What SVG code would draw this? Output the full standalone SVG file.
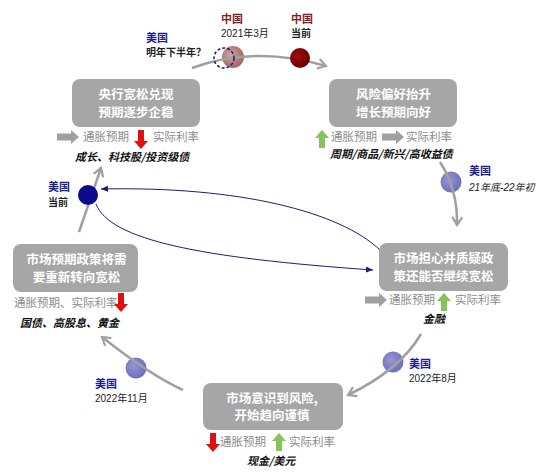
<svg xmlns="http://www.w3.org/2000/svg" width="542" height="473" viewBox="0 0 542 473">
<defs>
<style>
.box{fill:#a6a6a6;}
.bt{font-family:"Noto Sans CJK SC",sans-serif;font-size:12.5px;font-weight:bold;fill:#ffffff;text-anchor:middle;}
.sub{font-family:"Noto Sans CJK SC",sans-serif;font-size:11.5px;fill:#8c8c8c;}
.ast{font-family:"Noto Sans CJK SC",sans-serif;font-size:11px;font-weight:bold;font-style:italic;fill:#111111;}
.us{font-family:"Noto Sans CJK SC",sans-serif;font-size:11px;font-weight:bold;fill:#1f1f8a;}
.cn{font-family:"Noto Sans CJK SC",sans-serif;font-size:11px;font-weight:bold;fill:#8b1a1a;}
.dt{font-family:"Liberation Sans","Noto Sans CJK SC",sans-serif;font-size:10px;fill:#222222;}
.dtb{font-family:"Noto Sans CJK SC",sans-serif;font-size:10px;font-weight:bold;fill:#222222;}
.arc{fill:none;stroke:#a0a0a0;stroke-width:2.5;marker-end:url(#chev);}
.thin{fill:none;stroke:#1d1d6b;stroke-width:1;marker-end:url(#tri);}
</style>
<marker id="chev" markerUnits="userSpaceOnUse" viewBox="0 0 12 12" refX="10" refY="6" markerWidth="12" markerHeight="12" orient="auto">
<path d="M2,1 L10,6 L2,11" fill="none" stroke="#a0a0a0" stroke-width="2.2"/>
</marker>
<marker id="tri" markerUnits="userSpaceOnUse" viewBox="0 0 8 8" refX="7" refY="4" markerWidth="8" markerHeight="8" orient="auto">
<path d="M0,1 L7,4 L0,7 Z" fill="#1d1d6b"/>
</marker>
<path id="grayR" d="M0,-3.5 L14,-3.5 L14,-7 L22,0 L14,7 L14,3.5 L0,3.5 Z" fill="#a0a0a0"/>
<path id="redD" d="M-3,0 L3,0 L3,11 L7,11 L0,19 L-7,11 L-3,11 Z" fill="#e01010"/>
<path id="grnU" d="M-3,18 L3,18 L3,8 L7,8 L0,0 L-7,8 L-3,8 Z" fill="#86c45a"/>
<radialGradient id="gUS" cx="0.4" cy="0.4" r="0.6">
<stop offset="0" stop-color="#8a8ad2"/><stop offset="1" stop-color="#5f5fb3"/>
</radialGradient>
<radialGradient id="gCN1" cx="0.4" cy="0.4" r="0.6">
<stop offset="0" stop-color="#c79a9a"/><stop offset="1" stop-color="#9a5656"/>
</radialGradient>
<radialGradient id="gCN2" cx="0.4" cy="0.4" r="0.6">
<stop offset="0" stop-color="#9a1010"/><stop offset="1" stop-color="#6a0000"/>
</radialGradient>
</defs>
<rect width="542" height="473" fill="#ffffff"/>

<g id="markers-light">
<circle cx="233" cy="57" r="11" fill="url(#gCN1)" opacity="0.9"/>
<circle cx="451" cy="182" r="10.5" fill="url(#gUS)" opacity="0.9"/>
<circle cx="393" cy="362" r="10.5" fill="url(#gUS)" opacity="0.9"/>
<circle cx="136" cy="368" r="10.5" fill="url(#gUS)" opacity="0.9"/>
</g>

<g id="connectors">
<path class="arc" d="M192,68 Q255,45 326,66"/>
<path class="arc" d="M440,162 Q458,190 457,225"/>
<path class="arc" d="M421,334 Q400,370 348,395"/>
<path class="arc" d="M183,390 Q150,375 102,337"/>
<path class="arc" d="M79,232 L101,168"/>
<path class="thin" d="M380,250 C340,212 240,186 101,189"/>
<path class="thin" d="M96,204 C110,240 200,258 373,270"/>
</g>

<g id="markers-dark">
<circle cx="224" cy="58" r="10" fill="none" stroke="#1d1d6b" stroke-width="1.5" stroke-dasharray="3,2"/>
<circle cx="300" cy="58" r="10" fill="url(#gCN2)"/>
<circle cx="88" cy="195" r="10" fill="#0a0a8a"/>
</g>

<g id="labels">
<text class="us" x="146" y="42">美国</text>
<text class="dtb" x="146" y="56" font-weight="normal">明年下半年？</text>
<text class="cn" x="221" y="23">中国</text>
<text class="dt" x="221" y="37">2021年3月</text>
<text class="cn" x="291" y="23">中国</text>
<text class="dtb" x="291" y="37">当前</text>
<text class="us" x="469" y="175">美国</text>
<text class="dt" x="469" y="191" font-style="italic">21年底-22年初</text>
<text class="us" x="409" y="368">美国</text>
<text class="dt" x="409" y="382">2022年8月</text>
<text class="us" x="95" y="388">美国</text>
<text class="dt" x="95" y="402">2022年11月</text>
<text class="us" x="48" y="191">美国</text>
<text class="dtb" x="48" y="206">当前</text>
</g>

<g id="node1">
<rect class="box" x="72" y="79" width="128" height="48" rx="8"/>
<text class="bt"><tspan x="136" y="99">央行宽松兑现</tspan><tspan x="136" y="116.5">预期逐步企稳</tspan></text>
<use href="#grayR" x="57" y="137"/>
<text class="sub" x="83" y="141">通胀预期</text>
<use href="#redD" x="141" y="130"/>
<text class="sub" x="153" y="141">实际利率</text>
<text class="ast" x="75" y="160.5">成长、科技股/投资级债</text>
</g>

<g id="node2">
<rect class="box" x="329" y="79" width="128" height="48" rx="8"/>
<text class="bt"><tspan x="393.5" y="99">风险偏好抬升</tspan><tspan x="393.5" y="116.5">增长预期向好</tspan></text>
<use href="#grnU" x="322" y="130"/>
<text class="sub" x="331" y="141">通胀预期</text>
<use href="#grayR" x="382" y="137"/>
<text class="sub" x="406" y="141">实际利率</text>
<text class="ast" x="330" y="158">周期/商品/新兴/高收益债</text>
</g>

<g id="node3">
<rect class="box" x="13" y="244" width="125" height="48" rx="8"/>
<text class="bt"><tspan x="76.5" y="264">市场预期政策将需</tspan><tspan x="76.5" y="281.5">要重新转向宽松</tspan></text>
<text class="sub" x="14" y="307">通胀预期、实际利率</text>
<use href="#redD" x="121" y="293"/>
<text class="ast" x="20" y="327">国债、高股息、黄金</text>
</g>

<g id="node4">
<rect class="box" x="379" y="243" width="129" height="48" rx="8"/>
<text class="bt"><tspan x="443.5" y="263">市场担心并质疑政</tspan><tspan x="443.5" y="280.5">策还能否继续宽松</tspan></text>
<use href="#grayR" x="365" y="300"/>
<text class="sub" x="389" y="304">通胀预期</text>
<use href="#grnU" x="444" y="293"/>
<text class="sub" x="455" y="304">实际利率</text>
<text class="ast" x="423" y="323">金融</text>
</g>

<g id="node5">
<rect class="box" x="203" y="383" width="140" height="47" rx="8"/>
<text class="bt"><tspan x="272" y="402.5">市场意识到风险,</tspan><tspan x="272" y="420">开始趋向谨慎</tspan></text>
<use href="#redD" x="213" y="433"/>
<text class="sub" x="220" y="446">通胀预期</text>
<use href="#grnU" x="279" y="433"/>
<text class="sub" x="289" y="446">实际利率</text>
<text class="ast" x="247" y="465">现金/美元</text>
</g>
</svg>
